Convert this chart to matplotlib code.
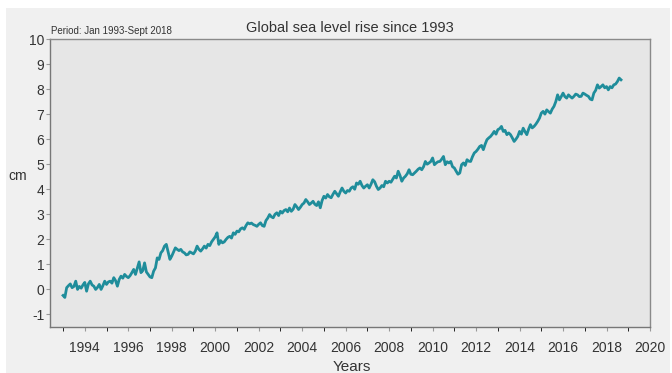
import matplotlib as mpl
mpl.use('Agg')
import matplotlib.pyplot as plt
from matplotlib.patches import Rectangle
import numpy as np

plt.rcParams['font.family'] = ['Liberation Sans', 'DejaVu Sans']
plt.rcParams['axes.unicode_minus'] = False

# Monthly global mean sea level anomaly (cm), Jan 1993 - Sept 2018
start_year = 1993
sea_level = [
    # 1993
    -0.24, -0.32, 0.07, 0.15, 0.22, 0.07, 0.12, 0.33, 0.0, 0.12, 0.05, 0.18,
    # 1994
    0.28, -0.07, 0.22, 0.33, 0.18, 0.13, 0.0, 0.08, 0.2, 0.0, 0.15, 0.33,
    # 1995
    0.2, 0.3, 0.33, 0.25, 0.47, 0.35, 0.13, 0.4, 0.53, 0.45, 0.6, 0.52,
    # 1996
    0.47, 0.55, 0.67, 0.8, 0.6, 0.85, 1.1, 0.67, 0.75, 1.06, 0.7, 0.6,
    # 1997
    0.5, 0.47, 0.73, 0.86, 1.26, 1.2, 1.46, 1.55, 1.73, 1.8, 1.5, 1.2,
    # 1998
    1.33, 1.5, 1.66, 1.6, 1.55, 1.6, 1.5, 1.46, 1.38, 1.4, 1.5, 1.46,
    # 1999
    1.42, 1.53, 1.73, 1.6, 1.53, 1.62, 1.73, 1.65, 1.8, 1.75, 1.9, 2.0,
    # 2000
    2.1, 2.26, 1.8, 1.95, 1.86, 1.9, 2.0, 2.08, 2.12, 2.05, 2.26, 2.2,
    # 2001
    2.33, 2.3, 2.42, 2.46, 2.4, 2.55, 2.66, 2.62, 2.65, 2.59, 2.56, 2.52,
    # 2002
    2.6, 2.66, 2.55, 2.52, 2.75, 2.85, 2.99, 2.9, 2.86, 3.0, 3.06, 2.95,
    # 2003
    3.12, 3.05, 3.15, 3.19, 3.1, 3.25, 3.12, 3.2, 3.39, 3.3, 3.19, 3.28,
    # 2004
    3.39, 3.45, 3.59, 3.5, 3.39, 3.45, 3.52, 3.4, 3.35, 3.5, 3.26, 3.55,
    # 2005
    3.72, 3.65, 3.79, 3.7, 3.66, 3.8, 3.92, 3.82, 3.72, 3.9, 4.05, 3.92,
    # 2006
    3.85, 3.95, 3.92, 4.05, 4.1, 4.0, 4.25, 4.2, 4.32, 4.15, 4.05, 4.12,
    # 2007
    4.18, 4.05, 4.2, 4.38, 4.3, 4.12, 3.99, 4.05, 4.15, 4.1, 4.32, 4.25,
    # 2008
    4.32, 4.28, 4.4, 4.52, 4.45, 4.72, 4.55, 4.32, 4.45, 4.52, 4.62, 4.78,
    # 2009
    4.6, 4.58, 4.65, 4.72, 4.8, 4.85, 4.78, 4.9, 5.11, 5.0, 5.05, 5.11,
    # 2010
    5.25, 4.98, 5.05, 5.1, 5.11, 5.2, 5.31, 4.98, 5.1, 5.05, 5.11, 4.9,
    # 2011
    4.85, 4.72, 4.6, 4.65, 4.98, 5.05, 4.95, 5.18, 5.12, 5.11, 5.3, 5.45,
    # 2012
    5.51, 5.6, 5.71, 5.75, 5.58, 5.8, 5.98, 6.05, 6.11, 6.2, 6.31, 6.2,
    # 2013
    6.38, 6.42, 6.51, 6.31, 6.35, 6.18, 6.25, 6.18, 6.05, 5.91, 6.0, 6.11,
    # 2014
    6.31, 6.2, 6.44, 6.3, 6.18, 6.4, 6.58, 6.45, 6.51, 6.6, 6.71, 6.84,
    # 2015
    7.04, 7.11, 7.0, 7.17, 7.1, 7.04, 7.2, 7.31, 7.5, 7.77, 7.57, 7.7,
    # 2016
    7.84, 7.7, 7.64, 7.77, 7.7, 7.64, 7.71, 7.8, 7.77, 7.7, 7.71, 7.84,
    # 2017
    7.8, 7.75, 7.71, 7.6, 7.57, 7.84, 7.95, 8.17, 8.04, 8.1, 8.17, 8.05,
    # 2018 (to Sept)
    8.1, 7.97, 8.1, 8.05, 8.17, 8.2, 8.3, 8.44, 8.37,
]
year_ticks = list(range(1994, 2021, 2))
cm_ticks = list(range(-1, 11))

years = start_year + np.arange(len(sea_level)) / 12.0

fig = plt.figure(figsize=(6.72, 3.73), dpi=100, facecolor='white')
fig.patches.append(Rectangle((6 / 672, 0), 664 / 672, 1 - 8 / 373,
                             transform=fig.transFigure, facecolor='#f0f0f0',
                             edgecolor='none', zorder=-10))

ax = fig.add_axes([50 / 672, 1 - 327 / 373, 600 / 672, 288 / 373])
ax.set_facecolor('#e6e6e6')
ax.plot(years, sea_level, color='#1f8d9b', lw=2.0, solid_joinstyle='round')

ax.set_xlim(1992.4, 2020)
ax.set_ylim(-1.5, 10)
ax.set_xticks(year_ticks)
ax.set_xticks(range(1993, 2021), minor=True)
ax.set_yticks(cm_ticks)
ax.tick_params(axis='both', labelsize=10, colors='#999999', labelcolor='#333333',
               length=3, width=0.8)
ax.tick_params(axis='x', which='both', pad=7)
ax.tick_params(axis='x', which='minor', length=3)
ax.tick_params(axis='y', pad=1)
for s in ax.spines.values():
    s.set_color('#8a8a8a')
    s.set_linewidth(1.0)
ax.spines['left'].set_color('#777777')
ax.spines['bottom'].set_color('#777777')

fig.text(350 / 672, 1 - 28 / 373, 'Global sea level rise since 1993',
         ha='center', va='center', fontsize=10.5, color='#333333')
fig.text(51 / 672, 1 - 31 / 373, 'Period: Jan 1993-Sept 2018',
         ha='left', va='center', fontsize=7, color='#333333')
fig.text(18 / 672, 1 - 176 / 373, 'cm', ha='center', va='center',
         fontsize=10, color='#333333')
fig.text(352 / 672, 1 - 360 / 373, 'Years', ha='center', va='top',
         fontsize=11, color='#333333')

fig.savefig('out.png', dpi=100, facecolor=fig.get_facecolor())
